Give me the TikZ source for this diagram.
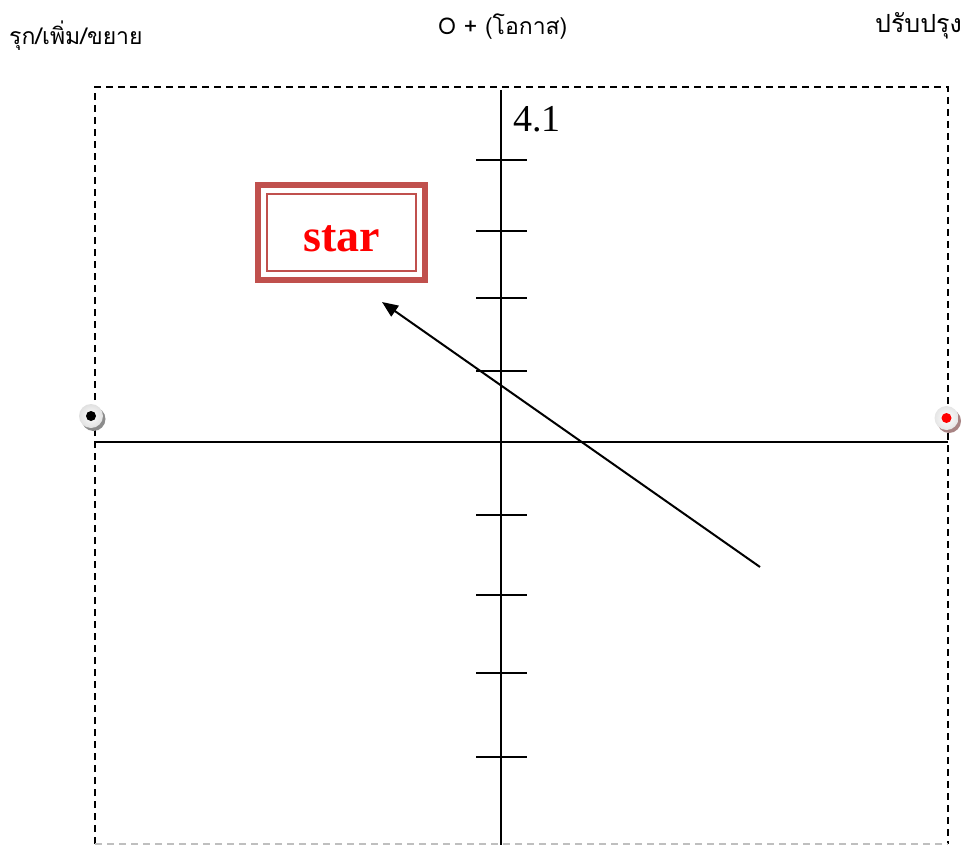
\documentclass[tikz,border=0pt]{standalone}
\usepackage{fontspec}
\setmainfont{Liberation Serif}
\newfontfamily\thaifont[Script=Thai]{Loma}
\usetikzlibrary{arrows.meta}
\definecolor{boxred}{HTML}{C0504D}
\definecolor{shadowred}{HTML}{A88484}
\begin{document}
\begin{tikzpicture}[x=1pt,y=-1pt,
  frame/.style={dash pattern=on 7pt off 5pt, line width=1.6pt},
  axis/.style={line width=1.6pt},
  tickline/.style={line width=1.6pt},
  lbl/.style={font=\thaifont\fontsize{23}{26}\selectfont, inner sep=0pt},
  starbox/.style={draw=boxred, line width=6pt, minimum width=167pt, minimum height=95pt,
    font=\bfseries\fontsize{46}{46}\selectfont, text=red, inner sep=0pt,
    text height=38pt, text depth=0pt},
  arrowline/.style={line width=2pt, -{Triangle[length=16pt,width=13pt]}}]
\useasboundingbox (0,0) rectangle (966,845);
% frame
\coordinate (FBL) at (95,844);
\coordinate (FTL) at (95,87);
\coordinate (FTR) at (948,87);
\coordinate (FBR) at (948,844);
\draw[frame] (FBL) -- (FTL) -- (FTR) -- (FBR);
\draw[frame, black!25] (FBL) -- (FBR);
% axes
\coordinate (L) at (95,442);
\coordinate (R) at (948,442);
\coordinate (T) at (501,90);
\coordinate (B) at (501,845);
\draw[axis] (L) -- (R);
\draw[axis] (T) -- (B);
\foreach \yy in {160,231,298,371,515,595,673,757}
  \draw[tickline] (476,\yy) -- (527,\yy);
% number
\node[font=\fontsize{38}{38}\selectfont, inner sep=0pt, anchor=base west] (num) at (513,132) {4.1};
% star box
\node[starbox] (star) at (341.5,232.5) {star};
\draw[boxred, line width=2pt] ([shift={(12pt,-12pt)}]star.north west) rectangle ([shift={(-12pt,12pt)}]star.south east);
% arrow
\coordinate (tail) at (760,567);
\coordinate (tip) at (382,302);
\draw[arrowline] (tail) -- (tip);
% left marker
\fill[black!45] (93.5,419) circle (12pt);
\shade[inner color=white, outer color=black!12] (91,416) circle (12pt);
\fill[black] (91,416) circle (5pt);
% right marker
\fill[shadowred] (949,421) circle (12pt);
\shade[inner color=white, outer color=black!10] (946.5,418) circle (12pt);
\fill[red] (946.5,418) circle (5pt);
% labels
\node[lbl, anchor=base west] (t1) at (9,45) {รุก/เพิ่ม/ขยาย};
\node[lbl, anchor=base west] (t2) at (438,35) {O + (โอกาส)};
\node[lbl, font=\thaifont\fontsize{25}{28}\selectfont, anchor=base east] (t3) at (962,33) {ปรับปรุง};
\end{tikzpicture}
\end{document}
